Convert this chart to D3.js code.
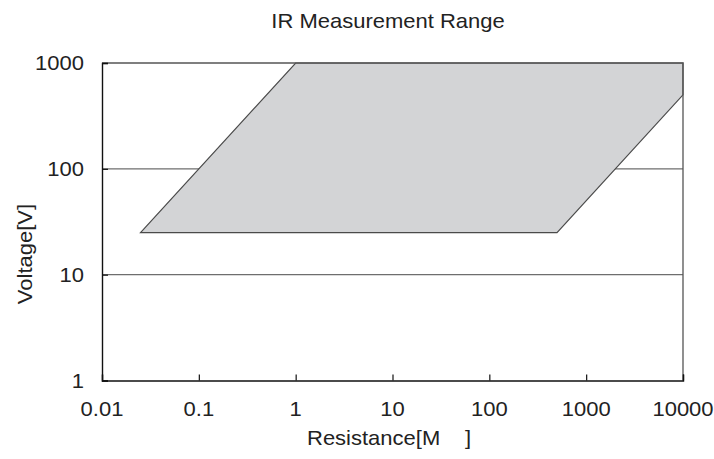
<!DOCTYPE html>
<html><head><meta charset="utf-8">
<script src="https://cdn.jsdelivr.net/npm/d3@7"></script>
<style>body{margin:0;background:#fff}svg{display:block}text{font-family:"Liberation Sans",Arial,sans-serif;fill:#222}</style>
</head><body>
<script>
const title = "IR Measurement Range";
const xLabel = "Resistance[M";
const xLabelEnd = "]";
const yLabel = "Voltage[V]";
const xTicks = [0.01, 0.1, 1, 10, 100, 1000, 10000];
const xTickLabels = ["0.01", "0.1", "1", "10", "100", "1000", "10000"];
const yTicks = [1, 10, 100, 1000];
const yTickLabels = ["1", "10", "100", "1000"];
const rangeResistance = [0.025, 1, 10000, 10000, 500];
const rangeVoltage = [25, 1000, 1000, 500, 25];

const W = 714, H = 459;
const svg = d3.select("body").append("svg").attr("width", W).attr("height", H);
const x = d3.scaleLog().domain([0.01, 10000]).range([102, 683]);
const y = d3.scaleLog().domain([1, 1000]).range([380.5, 63]);
const SX = 1.1, FS = 20;

function label(txt, px, py, anchor, rot) {
  const g = svg.append("g").attr("transform", `translate(${px},${py})` + (rot ? ` rotate(${rot})` : "") + ` scale(${SX},1)`);
  return g.append("text").attr("text-anchor", anchor).style("font-size", FS + "px").text(txt);
}

// gridlines
svg.append("g").selectAll("line").data([10, 100]).join("line")
  .attr("x1", x(0.01)).attr("x2", x(10000)).attr("y1", d => y(d)).attr("y2", d => y(d))
  .attr("stroke", "#6e6e6e").attr("stroke-width", 1.2);

// region
const pts = rangeResistance.map((r, i) => [x(r), y(rangeVoltage[i])]);
svg.append("path").attr("d", d3.line()(pts) + "Z")
  .attr("fill", "#d3d4d6").attr("stroke", "#4a4a4a").attr("stroke-width", 1.2);

// frame top/right
svg.append("path").attr("d", `M${x(0.01)},${y(1000)}H${x(10000)}V${y(1)}`)
  .attr("fill", "none").attr("stroke", "#555").attr("stroke-width", 1.3);

// axes
const xAxis = d3.axisBottom(x).tickValues(xTicks).tickSize(-6).tickFormat("");
svg.append("g").attr("transform", `translate(0,${y(1)})`).call(xAxis)
  .call(g => g.select(".domain").attr("stroke", "#111").attr("stroke-width", 1.4))
  .call(g => g.selectAll(".tick line").attr("stroke", "#111").attr("stroke-width", 1.2));
const yAxis = d3.axisLeft(y).tickValues(yTicks).tickSize(-6).tickFormat("");
svg.append("g").attr("transform", `translate(${x(0.01)},0)`).call(yAxis)
  .call(g => g.select(".domain").attr("stroke", "#111").attr("stroke-width", 1.4))
  .call(g => g.selectAll(".tick line").attr("stroke", "#111").attr("stroke-width", 1.2));

// tick labels
xTicks.forEach((v, i) => label(xTickLabels[i], x(v), 416, "middle"));
yTicks.forEach((v, i) => label(yTickLabels[i], 84, y(v) + 7, "end"));

// titles
label(title, 388, 28, "middle");
label(xLabel, 307, 445, "start");
label(xLabelEnd, 465, 445, "start");
label(yLabel, 32, 254, "middle", -90);
</script>
</body></html>
